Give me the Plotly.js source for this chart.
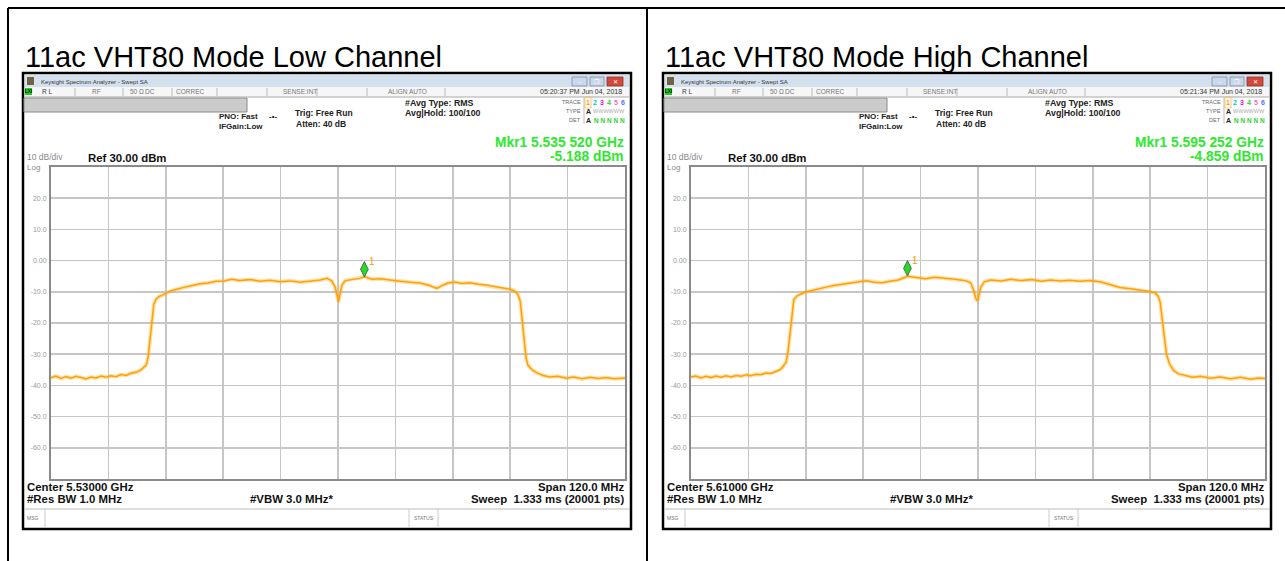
<!DOCTYPE html>
<html>
<head>
<meta charset="utf-8">
<script src="https://cdn.plot.ly/plotly-3.0.1.min.js"></script>
<style>html,body{margin:0;padding:0;background:#fff;}#chart{width:1285px;height:561px;}</style>
</head>
<body>
<div id="chart"></div>
<script>
// ---------- DATA ----------
const panelTitles = ["11ac VHT80 Mode Low Channel", "11ac VHT80 Mode High Channel"];
const centerGHz = [5.530, 5.610];
const spanGHz = 0.120;
const yTickVals = [20, 10, 0, -10, -20, -30, -40, -50, -60];
const yTickText = ["20.0", "10.0", "0.00", "-10.0", "-20.0", "-30.0", "-40.0", "-50.0", "-60.0"];

const lowFreq = [5.4700,5.4710,5.4721,5.4731,5.4742,5.4752,5.4763,5.4773,5.4784,5.4794,5.4805,5.4815,5.4825,5.4836,5.4846,5.4857,5.4867,5.4878,5.4888,5.4894,5.4899,5.4903,5.4907,5.4911,5.4915,5.4920,5.4926,5.4934,5.4943,5.4953,5.4966,5.4980,5.4995,5.5012,5.5028,5.5045,5.5062,5.5078,5.5095,5.5116,5.5137,5.5158,5.5179,5.5200,5.5221,5.5242,5.5263,5.5277,5.5287,5.5294,5.5298,5.5301,5.5304,5.5308,5.5315,5.5330,5.5346,5.5355,5.5372,5.5388,5.5409,5.5430,5.5451,5.5471,5.5488,5.5501,5.5507,5.5517,5.5530,5.5545,5.5559,5.5576,5.5593,5.5610,5.5626,5.5643,5.5660,5.5670,5.5676,5.5681,5.5685,5.5689,5.5693,5.5697,5.5706,5.5716,5.5729,5.5743,5.5760,5.5777,5.5793,5.5810,5.5827,5.5844,5.5860,5.5877,5.5900];
const lowLevel = [-37.6,-37.0,-37.8,-37.2,-37.7,-37.1,-37.5,-37.9,-37.3,-37.6,-37.0,-37.4,-36.9,-37.2,-36.5,-36.8,-36.1,-35.8,-35.0,-34.0,-33.5,-31.0,-25.0,-19.0,-14.0,-12.3,-11.5,-11.0,-10.2,-9.6,-9.0,-8.5,-8.0,-7.4,-7.2,-6.6,-6.5,-6.0,-6.4,-6.1,-6.6,-6.3,-6.8,-6.5,-6.9,-6.6,-6.2,-5.7,-6.5,-8.5,-11.5,-13.2,-11.0,-8.0,-6.4,-6.0,-5.7,-5.2,-6.0,-5.8,-6.3,-6.6,-6.9,-7.2,-7.8,-8.6,-8.9,-8.0,-7.2,-6.9,-7.3,-7.1,-7.6,-7.8,-8.3,-8.9,-9.2,-9.8,-10.8,-13.0,-19.0,-26.0,-31.0,-33.5,-35.0,-36.0,-36.8,-37.3,-37.1,-37.7,-37.3,-37.9,-37.4,-37.8,-37.5,-37.9,-37.6];

const highFreq = [5.5500,5.5510,5.5521,5.5531,5.5542,5.5552,5.5563,5.5573,5.5584,5.5594,5.5605,5.5615,5.5625,5.5636,5.5646,5.5657,5.5667,5.5678,5.5686,5.5692,5.5699,5.5703,5.5707,5.5711,5.5715,5.5722,5.5730,5.5740,5.5753,5.5765,5.5782,5.5799,5.5816,5.5832,5.5849,5.5866,5.5883,5.5899,5.5916,5.5933,5.5953,5.5971,5.5990,5.6009,5.6028,5.6047,5.6064,5.6076,5.6085,5.6091,5.6095,5.6099,5.6102,5.6106,5.6113,5.6127,5.6148,5.6169,5.6190,5.6211,5.6232,5.6251,5.6272,5.6292,5.6313,5.6334,5.6355,5.6376,5.6397,5.6418,5.6439,5.6460,5.6470,5.6477,5.6481,5.6485,5.6489,5.6494,5.6500,5.6509,5.6519,5.6534,5.6549,5.6565,5.6586,5.6606,5.6628,5.6649,5.6670,5.6686,5.6700];
const highLevel = [-37.3,-37.0,-37.6,-37.1,-37.5,-37.0,-37.4,-36.9,-37.3,-36.8,-37.1,-36.6,-36.9,-36.4,-36.6,-36.0,-36.2,-35.5,-35.0,-34.0,-32.5,-29.0,-23.0,-17.0,-12.5,-11.3,-10.8,-10.0,-9.6,-9.1,-8.5,-8.0,-7.6,-7.1,-6.8,-6.5,-6.9,-7.1,-6.6,-6.2,-5.0,-5.4,-5.8,-5.3,-5.7,-5.9,-6.2,-6.5,-7.2,-9.5,-12.0,-13.0,-11.0,-8.5,-6.8,-6.2,-6.5,-6.0,-6.4,-6.1,-6.6,-6.2,-6.5,-6.3,-6.6,-6.4,-6.8,-7.6,-8.6,-9.0,-9.4,-9.9,-10.3,-11.5,-13.5,-19.0,-25.0,-30.0,-33.0,-35.2,-36.3,-36.9,-37.4,-37.1,-37.7,-37.3,-37.9,-37.4,-38.0,-37.6,-37.8];

const mkrFreq = [5.535520, 5.595252];
const mkrLevel = [-5.188, -4.859];
const mkrFreqText = ["Mkr1 5.535 520 GHz", "Mkr1 5.595 252 GHz"];
const mkrLevelText = ["-5.188 dBm", "-4.859 dBm"];
const centerText = ["Center 5.53000 GHz", "Center 5.61000 GHz"];
const timeText = ["05:20:37 PM Jun 04, 2018", "05:21:34 PM Jun 04, 2018"];

// ---------- LAYOUT HELPERS ----------
const W = 1285, H = 561;
const FONT = "Liberation Sans, Arial, sans-serif";
const shapes = [], annotations = [];
const X = v => v / W, Y = v => 1 - v / H;
function rect(x0, y0, x1, y1, fill, line, lw, layer) {
  shapes.push({type:'rect', xref:'paper', yref:'paper', x0:X(x0), x1:X(x1), y0:Y(y1), y1:Y(y0),
    fillcolor: fill, line:{color: line || 'rgba(0,0,0,0)', width: lw || 0}, layer: layer || 'below'});
}
function line(x0, y0, x1, y1, color, lw) {
  shapes.push({type:'line', xref:'paper', yref:'paper', x0:X(x0), x1:X(x1), y0:Y(y0), y1:Y(y1),
    line:{color: color, width: lw}, layer:'above'});
}
function txt(x, y, text, size, color, anchor, bold) {
  annotations.push({xref:'paper', yref:'paper', x:X(x), y:Y(y), text: bold ? '<b>' + text + '</b>' : text,
    showarrow:false, xanchor: anchor || 'left', yanchor:'middle', borderpad:0,
    font:{family: FONT, size: size, color: color}});
}

// page borders
line(8, 8, W, 8, '#000', 2);
line(8, 8, 8, H, '#000', 2);
line(647, 8, 647, H, '#000', 2);

const plotX0 = 51, plotX1 = 625, plotY0 = 167, plotY1 = 479;

function panel(i) {
  const d = i * 640;
  txt(24 + d, 57, panelTitles[i], 29, '#000', 'left', false);
  // window frame
  rect(23 + d, 73, 631 + d, 529, '#ffffff', '#000', 2.5);
  rect(25 + d, 75, 629 + d, 87, '#d3e1ef', null, 0);
  rect(27 + d, 77, 34 + d, 85, '#6e6440', null, 0);
  txt(40 + d, 81.5, 'Keysight Spectrum Analyzer - Swept SA', 6, '#333', 'left');
  rect(572 + d, 77, 587 + d, 86, '#c9d8ea', '#7d8ea6', 0.8);
  rect(590 + d, 77, 604 + d, 86, '#c9d8ea', '#7d8ea6', 0.8);
  rect(607 + d, 77, 623 + d, 86, '#d0493a', '#8a3328', 0.8);
  txt(579.5 + d, 81.5, '–', 6, '#fff', 'center');
  txt(597 + d, 81.5, '❐', 6, '#fff', 'center');
  txt(615 + d, 81.5, '✕', 6, '#fff', 'center');
  // status row
  rect(25 + d, 87, 629 + d, 97, '#f6f6f6', null, 0);
  line(25 + d, 97, 629 + d, 97, '#aaaaaa', 1);
  [75, 123, 172, 217, 267, 317, 367, 445].forEach(x => line(x + d, 88, x + d, 96, '#b8b8b8', 1));
  rect(25 + d, 88, 32 + d, 95, '#1fd11f', null, 0);
  txt(28.5 + d, 91.5, 'LXI', 4.5, '#000', 'center', true);
  txt(41 + d, 91.5, 'R L', 6.5, '#333', 'left');
  txt(96 + d, 91.5, 'RF', 6.5, '#777', 'center');
  txt(129 + d, 91.5, '50 Ω', 6.5, '#777', 'left');
  txt(150 + d, 91.5, 'DC', 6.5, '#777', 'center');
  txt(190 + d, 91.5, 'CORREC', 6.5, '#777', 'center');
  txt(300 + d, 91.5, 'SENSE:INT', 6.5, '#777', 'center');
  txt(407 + d, 91.5, 'ALIGN AUTO', 6.5, '#777', 'center');
  txt(623 + d, 91.5, timeText[i], 7, '#333', 'right');
  // gray bar
  rect(24 + d, 98, 247 + d, 112, '#cbcbcb', '#8a8a8a', 1);
  // settings text
  txt(218 + d, 117, 'PNO: Fast', 8, '#222', 'left', true);
  txt(218 + d, 127, 'IFGain:Low', 8, '#222', 'left', true);
  txt(273 + d, 117, '-•-', 8, '#222', 'center', true);
  txt(294 + d, 113, 'Trig: Free Run', 8.5, '#222', 'left', true);
  txt(295 + d, 124, 'Atten: 40 dB', 8.5, '#222', 'left', true);
  txt(404 + d, 103, '#Avg Type: RMS', 8.8, '#222', 'left', true);
  txt(404 + d, 113, 'Avg|Hold: 100/100', 8.8, '#222', 'left', true);
  txt(582 + d, 102, 'TRACE', 5.5, '#666', 'right');
  txt(582 + d, 111, 'TYPE', 5.5, '#666', 'right');
  txt(582 + d, 120, 'DET', 5.5, '#666', 'right');
  line(584 + d, 98, 584 + d, 124, '#bbbbbb', 1);
  const tc = ['#ff9900', '#00cccc', '#ee00ee', '#33cc33', '#ff66cc', '#6666ff'];
  tc.forEach((c, k) => txt(588 + d + k * 7, 102.5, String(k + 1), 7, c, 'center', true));
  rect(585 + d, 97, 591 + d, 108, 'rgba(0,0,0,0)', '#ffb84d', 0.8, 'above');
  txt(588 + d, 111.5, 'A', 7, '#222', 'center', true);
  txt(592 + d, 111.5, 'WWWWWW', 5.5, '#aaaaaa', 'left');
  txt(588 + d, 120.5, 'A', 7, '#222', 'center', true);
  txt(593 + d, 120.5, 'N N N N N', 6.5, '#33cc33', 'left', true);
  // marker readout
  txt(625 + d, 142, mkrFreqText[i], 13.8, '#2ee82e', 'right', true);
  txt(625 + d, 156, mkrLevelText[i], 13.8, '#2ee82e', 'right', true);
  txt(26 + d, 157, '10 dB/div', 8.5, '#888', 'left');
  txt(26 + d, 167.5, 'Log', 8, '#888', 'left');
  txt(87 + d, 158, 'Ref 30.00 dBm', 11.4, '#111', 'left', true);
  // bottom annotations
  txt(26 + d, 487, centerText[i], 11.4, '#111', 'left', true);
  txt(26 + d, 499, '#Res BW 1.0 MHz', 11.4, '#111', 'left', true);
  txt(291 + d, 499, '#VBW 3.0 MHz*', 11.4, '#111', 'center', true);
  txt(625 + d, 487, 'Span 120.0 MHz', 11.4, '#111', 'right', true);
  txt(625 + d, 499, 'Sweep  1.333 ms (20001 pts)', 11.4, '#111', 'right', true);
  // message bar
  line(24 + d, 509, 630 + d, 509, '#bbbbbb', 1);
  [45, 409, 438].forEach(x => line(x + d, 509, x + d, 527, '#cccccc', 1));
  txt(26 + d, 518, 'MSG', 5, '#777', 'left');
  txt(423.5 + d, 518, 'STATUS', 5, '#777', 'center');
}
panel(0); panel(1);

// ---------- TRACES ----------
const freqs = [lowFreq, highFreq], levels = [lowLevel, highLevel];
const traces = [];
const layout = {
  width: W, height: H, margin:{l:0, r:0, t:0, b:0}, paper_bgcolor:'#fff', plot_bgcolor:'#fff',
  showlegend:false, shapes: shapes, annotations: annotations, font:{family: FONT}
};
for (let i = 0; i < 2; i++) {
  const d = i * 640;
  const xa = i === 0 ? 'x' : 'x2', ya = i === 0 ? 'y' : 'y2';
  const xk = i === 0 ? 'xaxis' : 'xaxis2', yk = i === 0 ? 'yaxis' : 'yaxis2';
  const f0 = centerGHz[i] - spanGHz / 2, f1 = centerGHz[i] + spanGHz / 2;
  layout[xk] = {domain:[X(plotX0 + d), X(plotX1 + d)], range:[f0, f1], tick0:f0, dtick:spanGHz / 10,
    showgrid:true, gridcolor:'#c6c6c6', gridwidth:1.5, zeroline:false, showline:true, mirror:true,
    linecolor:'#8a8a8a', linewidth:2, ticks:'', showticklabels:false, anchor: ya, fixedrange:true};
  layout[yk] = {domain:[Y(plotY1), Y(plotY0)], range:[-70, 30], tickvals: yTickVals, ticktext: yTickText,
    showgrid:true, gridcolor:'#c6c6c6', gridwidth:1.5, zeroline:false, showline:true, mirror:true,
    linecolor:'#8a8a8a', linewidth:2, ticks:'', tickfont:{family: FONT, size:7, color:'#9a9a9a'},
    anchor: xa, fixedrange:true, ticklabelstandoff:1};
  // soft halo suggesting the noise band of the measured trace
  traces.push({x: freqs[i], y: levels[i], xaxis: xa, yaxis: ya, type:'scatter', mode:'lines',
    line:{color:'rgba(255,170,30,0.35)', width:4}, hoverinfo:'skip'});
  traces.push({x: freqs[i], y: levels[i], xaxis: xa, yaxis: ya, type:'scatter', mode:'lines',
    line:{color:'#ffa200', width:1.5}, hoverinfo:'skip'});
  // marker diamond sits with its lower tip on the marker point
  traces.push({x:[mkrFreq[i]], y:[mkrLevel[i] + 2.4], xaxis: xa, yaxis: ya, type:'scatter', mode:'markers',
    marker:{symbol:'diamond-tall', size:11, color:'#22dd22', line:{color:'#4a4a4a', width:0.8}}, hoverinfo:'skip'});
  annotations.push({xref: xa, yref: ya, x: mkrFreq[i], y: mkrLevel[i], text:'1', showarrow:false,
    xshift:8, yshift:15, font:{family: FONT, size:10, color:'#ff9900'}});
}
Plotly.newPlot('chart', traces, layout, {staticPlot:true, displayModeBar:false});
</script>
</body>
</html>
